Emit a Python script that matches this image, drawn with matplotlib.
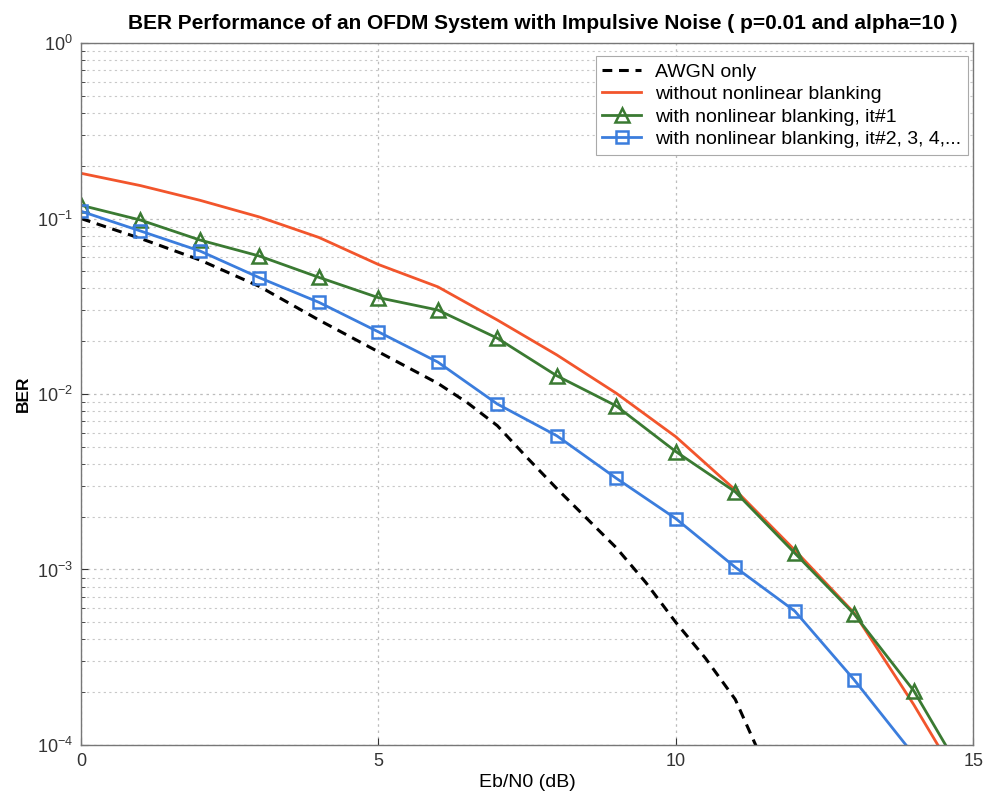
import matplotlib
matplotlib.use("Agg")
import matplotlib.pyplot as plt
from matplotlib.ticker import LogLocator, NullFormatter

plt.rcParams['font.family'] = ['Liberation Sans', 'DejaVu Sans']

# Eb/N0 grid (dB) for the simulated curves
snr = [0, 1, 2, 3, 4, 5, 6, 7, 8, 9, 10, 11, 12, 13, 14, 15]
# finer grid for the AWGN reference curve
snr_awgn = [0, 1, 2, 3, 4, 5, 6, 6.5, 7, 7.5, 8, 8.5, 9, 9.5, 10, 10.5,
            11, 11.5]

# BER curves
ber_awgn = [0.100, 0.077, 0.058, 0.041, 0.0264, 0.0174, 0.0115, 0.0089,
            0.0066, 0.00434, 0.00289, 0.00196, 0.00133, 0.00084, 0.00050,
            0.000312, 0.000182, 7.6e-5]
ber_no_blank = [0.181, 0.154, 0.127, 0.102, 0.078, 0.0547, 0.0408, 0.0264,
                0.0167, 0.0101, 0.00571, 0.00284, 0.00129, 0.000565,
                0.000170, 4.6e-5]
ber_blank_it1 = [0.119, 0.098, 0.0754, 0.0611, 0.0462, 0.0354, 0.0301, 0.0208,
                 0.0127, 0.00855, 0.0047, 0.00277, 0.00124, 0.000557,
                 0.000204, 5.4e-5]
ber_blank_it2 = [0.110, 0.0849, 0.0653, 0.046, 0.0333, 0.0226, 0.0152, 0.00877,
                 0.00578, 0.00331, 0.00195, 0.00103, 0.00058, 0.000235, 8.8e-5]

labels = ['AWGN only', 'without nonlinear blanking',
          'with nonlinear blanking, it#1',
          'with nonlinear blanking, it#2, 3, 4,...']

fig = plt.figure(figsize=(9.9, 7.95), dpi=100)
ax = fig.add_axes([0.0818, 0.0629, 0.9012, 0.883])

ax.semilogy(snr_awgn, ber_awgn, color='black', ls='--', lw=2.2,
            dashes=(3.2, 2.2), label=labels[0])
ax.semilogy(snr[:len(ber_no_blank)], ber_no_blank, color='#F2552C', lw=2,
            label=labels[1])
ax.semilogy(snr[:len(ber_blank_it1)], ber_blank_it1, color='#3A7A32', lw=2,
            marker='^', ms=10, mfc='none', mew=1.8, label=labels[2])
ax.semilogy(snr[:len(ber_blank_it2)], ber_blank_it2, color='#3B7DDD', lw=2,
            marker='s', ms=9, mfc='none', mew=1.8, label=labels[3])

ax.set_xlim(0, 15)
ax.set_ylim(1e-4, 1)
ax.set_xticks([0, 5, 10, 15])
ax.yaxis.set_major_locator(LogLocator(base=10, numticks=10))
ax.yaxis.set_minor_locator(LogLocator(base=10, subs=range(2, 10), numticks=50))
ax.yaxis.set_minor_formatter(NullFormatter())

ax.grid(True, which='major', axis='both', color='#bcbcbc', ls=(0, (2, 3)), lw=0.9)
ax.grid(True, which='minor', axis='y', color='#c8c8c8', ls=(0, (2, 3)), lw=0.8)

ax.tick_params(which='both', direction='in', labelsize=13, colors='#333333')
ax.tick_params(which='minor', length=3)
ax.tick_params(which='major', length=5, pad=6)
for s in ax.spines.values():
    s.set_color('#777777')
    s.set_linewidth(1.0)

ax.set_title('BER Performance of an OFDM System with Impulsive Noise ( p=0.01 and alpha=10 )',
             fontsize=15, fontweight='bold', pad=10, x=0.518)
ax.set_xlabel('Eb/N0 (dB)', fontsize=14, labelpad=3)
ax.set_ylabel('BER', fontsize=12.5, fontweight='bold', labelpad=4)

leg = ax.legend(loc='upper right', bbox_to_anchor=(0.994, 0.981),
                borderaxespad=0, fontsize=14, labelspacing=0.25,
                handlelength=2.0, handletextpad=0.7, fancybox=False,
                framealpha=1, edgecolor='#aaaaaa', borderpad=0.35)
leg.get_frame().set_linewidth(0.8)

fig.savefig('out.png', dpi=100)
